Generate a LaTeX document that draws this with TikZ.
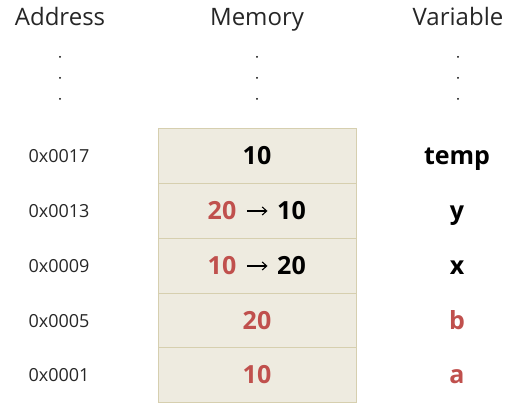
\documentclass[tikz,border=0pt]{standalone}
\usepackage{fontspec}
\setmainfont{Open Sans}
\usetikzlibrary{arrows.meta}
\definecolor{cellfill}{HTML}{EEEBE0}
\definecolor{cellline}{HTML}{D6CFAF}
\definecolor{valred}{HTML}{C0504D}
\begin{document}
\begin{tikzpicture}[x=1pt,y=-1pt,
  header/.style={anchor=base, font=\fontsize{24}{28}\selectfont, text=black!85},
  addr/.style={anchor=base, font=\fontsize{18}{22}\selectfont, text=black!85},
  cell/.style={draw=cellline, fill=cellfill, line width=1pt,
    minimum width=198pt, minimum height=55pt, inner sep=0pt},
  val/.style={anchor=base, inner sep=0pt, font=\fontsize{25}{30}\selectfont\bfseries},
  var/.style={anchor=base, font=\fontsize{25}{30}\selectfont\bfseries},
  change/.style={line width=1.1pt, shorten <=10.5pt, shorten >=9.5pt,
    -{Straight Barb[length=4.5pt,width=8pt,line width=1.1pt]}}]
\useasboundingbox (0,0) rectangle (512,411);

% column headings
\node[header] (hAddr) at (60,26) {Address};
\node[header] (hMem) at (257,26) {Memory};
\node[header] (hVar) at (458,26) {Variable};

% vertical ellipses under each heading
\foreach \cx in {60, 257, 458}{
  \foreach \cy in {57, 78, 99}{
    \fill (\cx,\cy) circle (1pt);
  }
}

% memory cells
\node[cell] (m17) at (257,156) {};
\node[cell] (m13) at (257,211) {};
\node[cell] (m09) at (257,266) {};
\node[cell] (m05) at (257,321) {};
\node[cell] (m01) at (257,375) {};

% cell contents
\node[val] (c17) at (257,165) {10};
\node[val, text=valred] (o13) at (222,220) {20};
\node[val] (n13) at (291.5,220) {10};
\draw[change] (o13.east |- m13.center) -- (n13.west |- m13.center);
\node[val, text=valred] (o09) at (222,275) {10};
\node[val] (n09) at (291.5,275) {20};
\draw[change] (o09.east |- m09.center) -- (n09.west |- m09.center);
\node[val, text=valred] (c05) at (257,330) {20};
\node[val, text=valred] (c01) at (257,384) {10};

% addresses
\node[addr] (a17) at (59,163) {0x0017};
\node[addr] (a13) at (59,218) {0x0013};
\node[addr] (a09) at (59,273) {0x0009};
\node[addr] (a05) at (59,328) {0x0005};
\node[addr] (a01) at (59,382) {0x0001};

% variable names
\node[var] (vtemp) at (457,165) {temp};
\node[var] (vy) at (457,220) {y};
\node[var] (vx) at (457,275) {x};
\node[var, text=valred] (vb) at (457,330) {b};
\node[var, text=valred] (va) at (457,384) {a};
\end{tikzpicture}
\end{document}
